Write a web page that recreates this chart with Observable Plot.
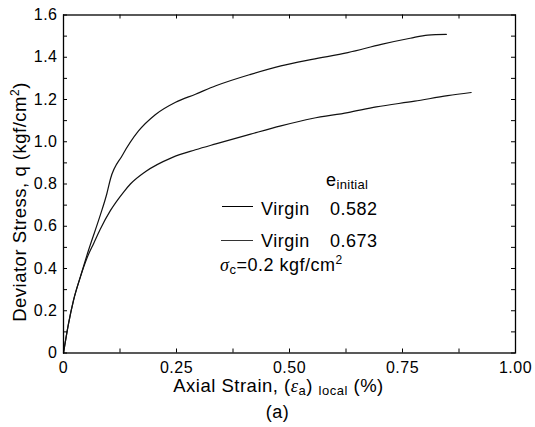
<!DOCTYPE html>
<html><head><meta charset="utf-8">
<script src="https://cdn.jsdelivr.net/npm/d3@7"></script>
<script src="https://cdn.jsdelivr.net/npm/@observablehq/plot@0.6"></script>
<style>
body{margin:0;background:#fff;}
#wrap{position:relative;width:535px;height:427px;font-family:"Liberation Sans",Arial,sans-serif;color:#000;overflow:hidden;}
#wrap svg{position:absolute;left:0;top:0;}
.t{position:absolute;white-space:nowrap;line-height:1;letter-spacing:0.5px;}
.sw{position:absolute;background:#000;}
</style></head><body><div id="wrap"></div>
<script>
// Series: initial void ratio labels
const specimens = ["Virgin", "Virgin"];
const voidRatios = ["0.582", "0.673"];

// e = 0.582 (upper curve)
const strainA = [0, 0.011, 0.022, 0.037, 0.055, 0.081, 0.096, 0.104, 0.13, 0.166, 0.203, 0.248, 0.292, 0.337, 0.414, 0.481, 0.55, 0.629, 0.703, 0.767, 0.806, 0.847];
const stressA = [0, 0.138, 0.248, 0.358, 0.484, 0.65, 0.755, 0.825, 0.935, 1.051, 1.128, 1.187, 1.225, 1.265, 1.319, 1.359, 1.39, 1.422, 1.461, 1.49, 1.505, 1.508];

// e = 0.673 (lower curve)
const strainB = [0, 0.011, 0.022, 0.037, 0.052, 0.067, 0.081, 0.104, 0.133, 0.148, 0.181, 0.24, 0.292, 0.337, 0.414, 0.481, 0.55, 0.629, 0.692, 0.777, 0.85, 0.902];
const stressB = [0, 0.138, 0.248, 0.358, 0.45, 0.52, 0.585, 0.675, 0.762, 0.8, 0.858, 0.925, 0.962, 0.99, 1.036, 1.075, 1.11, 1.138, 1.165, 1.192, 1.218, 1.233];

const xTicks = [0, 0.25, 0.5, 0.75, 1];
const xTickLabels = ["0", "0.25", "0.50", "0.75", "1.00"];
const xMinorTicks = [0.125, 0.375, 0.625, 0.875];
const yTicks = [0, 0.2, 0.4, 0.6, 0.8, 1.0, 1.2, 1.4, 1.6];
const yTickLabels = ["0", "0.2", "0.4", "0.6", "0.8", "1.0", "1.2", "1.4", "1.6"];
const yMinorTicks = [0.1, 0.3, 0.5, 0.7, 0.9, 1.1, 1.3, 1.5];

const rowsA = strainA.map((s, i) => ({strain: s, stress: stressA[i], e: voidRatios[0]}));
const rowsB = strainB.map((s, i) => ({strain: s, stress: stressB[i], e: voidRatios[1]}));

const W = 535, H = 427, mL = 63, mR = 20, mT = 14.5, mB = 74.5;
const plotH = H - mT - mB, plotW = W - mL - mR;
const tl = 4;
const xAll = xTicks.concat(xMinorTicks);
const yAll = yTicks.concat(yMinorTicks);

const chart = Plot.plot({
  width: W, height: H,
  marginLeft: mL, marginRight: mR, marginTop: mT, marginBottom: mB,
  style: {fontFamily: '"Liberation Sans", Arial, sans-serif', fontSize: "16px", color: "#000", background: "transparent", letterSpacing: "0.5px"},
  x: {domain: [0, 1]},
  y: {domain: [0, 1.6]},
  marks: [
    Plot.line(rowsB, {x: "strain", y: "stress", stroke: "#111", strokeWidth: 1.2, curve: "monotone-x"}),
    Plot.line(rowsA, {x: "strain", y: "stress", stroke: "#111", strokeWidth: 1.2, curve: "monotone-x"}),
    Plot.tickX(xAll, {x: d => d, insetTop: plotH - tl, stroke: "#000"}),
    Plot.tickX(xAll, {x: d => d, insetBottom: plotH - tl, stroke: "#000"}),
    Plot.tickY(yAll, {y: d => d, insetRight: plotW - tl, stroke: "#000"}),
    Plot.tickY(yAll, {y: d => d, insetLeft: plotW - tl, stroke: "#000"}),
    Plot.axisX(xTicks, {anchor: "bottom", tickSize: 0, tickPadding: 9, fontSize: 16, label: null,
      tickFormat: d => xTickLabels[xTicks.indexOf(d)]}),
    Plot.axisY(yTicks, {anchor: "left", tickSize: 0, tickPadding: 6, fontSize: 16, label: null,
      tickFormat: d => yTickLabels[yTicks.indexOf(d)]}),
    Plot.frame({stroke: "#000", strokeWidth: 1.3})
  ]
});

const wrap = document.getElementById("wrap");
wrap.appendChild(chart);

function addText(html, left, top, size, extra) {
  const d = document.createElement("div");
  d.className = "t";
  d.innerHTML = html;
  d.style.left = left + "px";
  d.style.top = top + "px";
  d.style.fontSize = size + "px";
  if (extra) Object.assign(d.style, extra);
  wrap.appendChild(d);
  return d;
}
function addSwatch(left, top, w, h, color) {
  const d = document.createElement("div");
  d.className = "sw";
  d.style.left = left + "px"; d.style.top = top + "px";
  d.style.width = w + "px"; d.style.height = h + "px";
  d.style.background = color;
  wrap.appendChild(d);
}

// Legend
addText('e<span style="font-size:13px;position:relative;top:3px;letter-spacing:0.3px">initial</span>', 326, 170.5, 18);
addSwatch(222, 206, 31, 1.4, "#000");
addText(specimens[0], 261, 199.7, 18);
addText(voidRatios[0], 330, 199.7, 18);
addSwatch(221, 239.5, 32, 1, "#333");
addText(specimens[1], 261, 232, 18);
addText(voidRatios[1], 330, 232, 18);
addText('<i style="font-family:\'Liberation Serif\',serif">σ</i><span style="font-size:13px;position:relative;top:3px">c</span>=0.2 kgf/cm<span style="font-size:12px;position:relative;top:-7px">2</span>', 220, 256.4, 18);

// Axis labels
addText('Axial Strain, (<i style="font-family:\'Liberation Serif\',serif">ε</i><span style="font-size:13px;position:relative;top:3px">a</span>) <span style="font-size:13px;position:relative;top:3px">local</span> (%)', 278.5, 377.3, 18.5, {transform: "translateX(-50%)"});
addText('(a)', 277.5, 402.7, 18, {transform: "translateX(-50%)"});
addText('Deviator Stress, q (kgf/cm<span style="font-size:12px;position:relative;top:-7px">2</span>)', 20.2, 201.5, 18.5, {transform: "translate(-50%,-50%) rotate(-90deg)"});
</script>
</body></html>
